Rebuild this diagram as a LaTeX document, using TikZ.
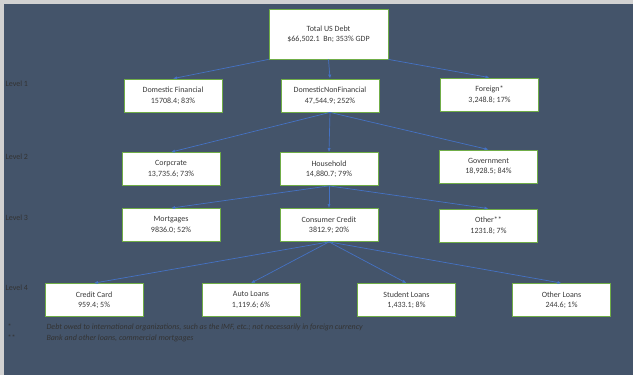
\documentclass[tikz,border=0pt]{standalone}
\usepackage{fontspec}
\setmainfont{Carlito}
\usetikzlibrary{arrows.meta, positioning}

\definecolor{panelblue}{HTML}{44546A}
\definecolor{boxgreen}{HTML}{70AD47}
\definecolor{linkblue}{HTML}{4472C4}
\definecolor{ink}{HTML}{3A3A3A}

\begin{document}
\begin{tikzpicture}[x=1pt, y=-1pt, font=\fontsize{8}{10.5}\selectfont,
  debtbox/.style={draw=boxgreen, fill=white, line width=0.8pt, minimum width=98pt,
                  minimum height=33pt, align=center, text=ink, inner sep=1pt},
  link/.style={draw=linkblue, line width=0.7pt, -{Latex[length=4pt, width=3.2pt]}},
  lvl/.style={anchor=west, text=black!80},
  note/.style={anchor=west, text=black!80, font=\fontsize{8}{10}\selectfont\itshape}]

  % frame and panel
  \fill[gray!35] (0,0) rectangle (633,375);
  \fill[panelblue] (4,4) rectangle (633,375);
  \useasboundingbox (0,0) rectangle (633,375);

  % level labels
  \node[lvl] (lv1) at (2,84) {Level 1};
  \node[lvl] (lv2) at (2,157) {Level 2};
  \node[lvl] (lv3) at (2,218) {Level 3};
  \node[lvl] (lv4) at (2,288) {Level 4};

  % top
  \node[debtbox, minimum width=119pt, minimum height=50pt] (total) at (328.5,34)
    {Total US Debt\\ \$66,502.1~~Bn; 353\% GDP};

  % level 1
  \node[debtbox] (domfin) at (173,95.5) {Domestic Financial\\15708.4; 83\%};
  \node[debtbox] (domnonfin) at (330,95.5) {DomesticNonFinancial\\47,544.9; 252\%};
  \node[debtbox] (foreign) at (489.5,94.5) {Foreign*\\3,248.8; 17\%};

  % level 2
  \node[debtbox] (corporate) at (171,169) {Corpcrate\\13,735.6; 73\%};
  \node[debtbox] (household) at (329,169) {Household\\14,880.7; 79\%};
  \node[debtbox] (government) at (488.5,166.5) {Government\\18,928.5; 84\%};

  % level 3
  \node[debtbox] (mortgages) at (171,225) {Mortgages\\9836.0; 52\%};
  \node[debtbox] (consumer) at (329,225) {Consumer Credit\\3812.9; 20\%};
  \node[debtbox] (other) at (488.5,225.5) {Other**\\1231.8; 7\%};

  % level 4
  \node[debtbox] (creditcard) at (94,300) {Credit Card\\959.4; 5\%};
  \node[debtbox] (autoloans) at (251,300) {Auto Loans\\1,119.6; 6\%};
  \node[debtbox] (studentloans) at (406.5,300) {Student Loans\\1,433.1; 8\%};
  \node[debtbox] (otherloans) at (561.5,300) {Other Loans\\244.6; 1\%};

  % connectors
  \draw[link] (total.south west) -- (domfin.north);
  \draw[link] (total.south) -- (domnonfin.north);
  \draw[link] (total.south east) -- (foreign.north);

  \draw[link] (domnonfin.south) -- (corporate.north);
  \draw[link] (domnonfin.south) -- (household.north);
  \draw[link] (domnonfin.south) -- (government.north);

  \draw[link] (household.south) -- (mortgages.north);
  \draw[link] (household.south) -- (consumer.north);
  \draw[link] (household.south) -- (other.north);

  \draw[link] (consumer.south) -- (creditcard.north);
  \draw[link] (consumer.south) -- (autoloans.north);
  \draw[link] (consumer.south) -- (studentloans.north);
  \draw[link] (consumer.south) -- (otherloans.north);

  % footnotes
  \node[lvl] (star1) at (4,327) {*};
  \node[note] (note1) at (43,327)
    {Debt owed to international organizations, such as the IMF, etc.; not necessarily in foreign currency};
  \node[lvl] (star2) at (4,338) {**};
  \node[note] (note2) at (43,338) {Bank and other loans, commercial mortgages};

\end{tikzpicture}
\end{document}
